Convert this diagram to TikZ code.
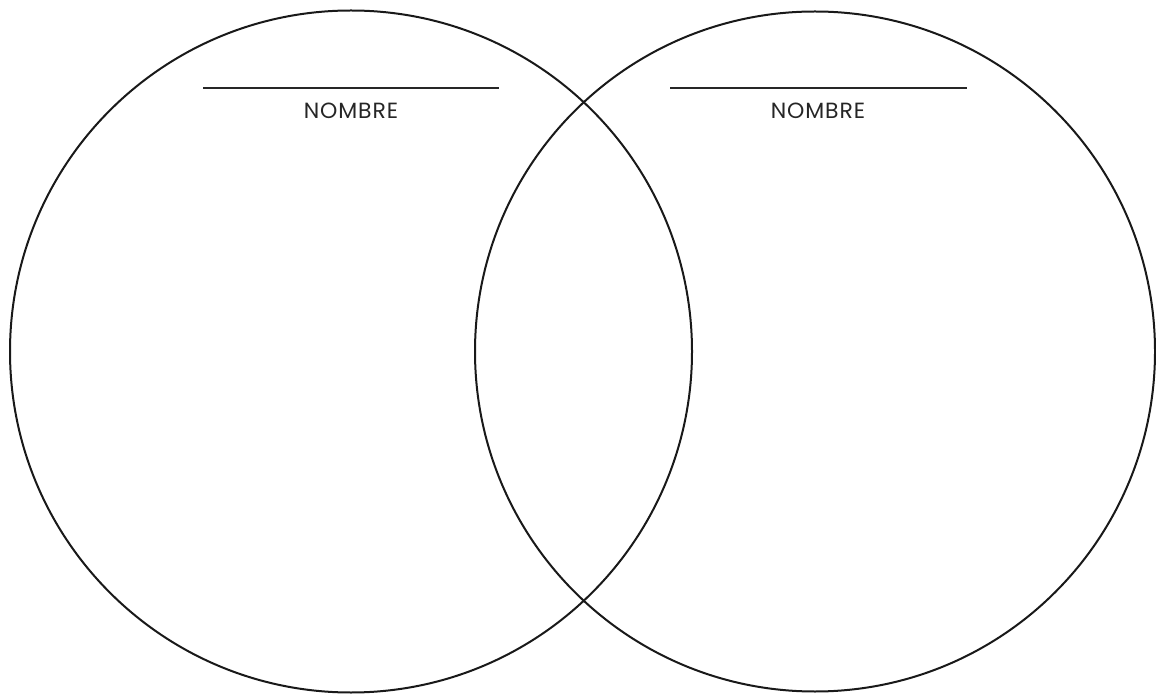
\documentclass[tikz,border=0pt]{standalone}
\usepackage{fontspec}
\setmainfont{Poppins}[LetterSpace=4]
\begin{document}
\begin{tikzpicture}[x=1pt,y=1pt,
  ring/.style={draw=black!90, line width=2pt},
  nameline/.style={draw=black!85, line width=2.6pt},
  label/.style={font=\fontsize{22}{25}\selectfont, text=black!85, inner sep=0pt}]
\useasboundingbox (0,0) rectangle (1156,694);
\node[ring, circle, minimum size=682pt, inner sep=0pt] (L) at (351,342.5) {};
\node[ring, circle, minimum size=680pt, inner sep=0pt] (R) at (815,342.5) {};
\coordinate (l1) at (203,606);
\coordinate (l2) at (499,606);
\coordinate (r1) at (670,606);
\coordinate (r2) at (967,606);
\draw[nameline] (l1) -- (l2);
\draw[nameline] (r1) -- (r2);
\node[label] (nl) at (351,583) {NOMBRE};
\node[label] (nr) at (818,583) {NOMBRE};
\end{tikzpicture}
\end{document}
